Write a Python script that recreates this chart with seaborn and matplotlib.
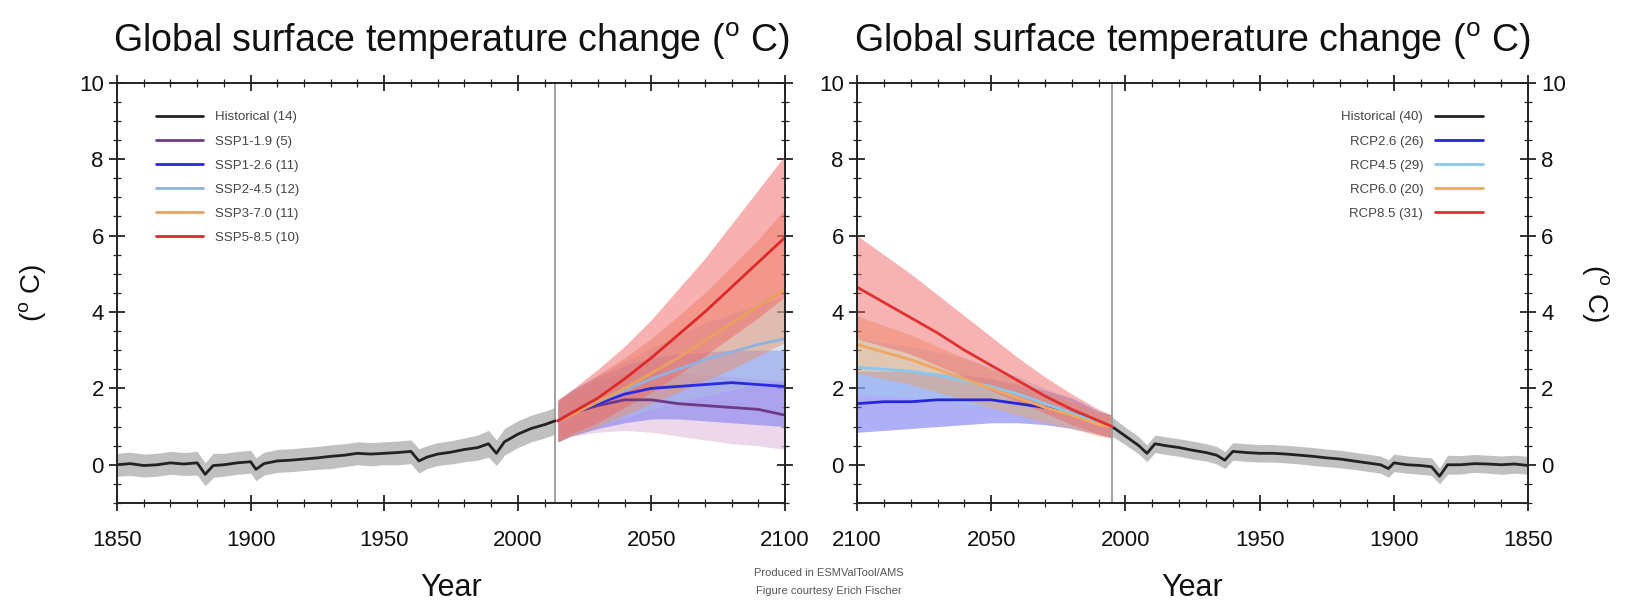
import matplotlib
matplotlib.use("Agg")
import matplotlib.pyplot as plt
from matplotlib.ticker import MultipleLocator
import seaborn as sns

# --- CMIP6 (left panel) ---
HIST_YEARS = [1850, 1855, 1860, 1865, 1870, 1875, 1880, 1883, 1886, 1890, 1895, 1900, 1902,
              1905, 1910, 1915, 1920, 1925, 1930, 1935, 1940, 1945, 1950, 1955, 1960, 1963,
              1966, 1970, 1975, 1980, 1985, 1989, 1992, 1995, 2000, 2005, 2010, 2014]
HIST_MEAN = [0.0, 0.03, -0.02, 0.0, 0.05, 0.02, 0.05, -0.25, -0.02, 0.0, 0.05, 0.08, -0.12,
             0.03, 0.1, 0.12, 0.15, 0.18, 0.22, 0.25, 0.3, 0.28, 0.3, 0.32, 0.35, 0.1,
             0.2, 0.28, 0.33, 0.4, 0.45, 0.55, 0.3, 0.6, 0.8, 0.95, 1.05, 1.15]
HIST_LO = [-0.3, -0.28, -0.32, -0.3, -0.25, -0.28, -0.27, -0.55, -0.33, -0.3, -0.25, -0.22, -0.42,
           -0.27, -0.2, -0.18, -0.15, -0.12, -0.1, -0.05, 0.0, -0.03, 0.0, 0.0, 0.03, -0.22,
           -0.1, -0.02, 0.02, 0.08, 0.12, 0.2, -0.02, 0.25, 0.45, 0.6, 0.7, 0.8]
HIST_HI = [0.3, 0.33, 0.28, 0.3, 0.35, 0.32, 0.35, 0.05, 0.3, 0.3, 0.35, 0.38, 0.18,
           0.33, 0.4, 0.42, 0.45, 0.48, 0.52, 0.55, 0.6, 0.58, 0.6, 0.62, 0.65, 0.42,
           0.5, 0.58, 0.63, 0.7, 0.78, 0.9, 0.65, 0.95, 1.15, 1.3, 1.4, 1.5]

SSP_YEARS = [2015, 2020, 2030, 2040, 2050, 2060, 2070, 2080, 2090, 2100]
SSP119_MEAN = [1.15, 1.35, 1.55, 1.7, 1.7, 1.6, 1.55, 1.5, 1.45, 1.3]
SSP119_LO = [0.6, 0.75, 0.85, 0.9, 0.85, 0.75, 0.65, 0.55, 0.5, 0.4]
SSP119_HI = [1.6, 1.9, 2.2, 2.4, 2.45, 2.4, 2.35, 2.3, 2.25, 2.2]
SSP126_MEAN = [1.15, 1.35, 1.6, 1.85, 2.0, 2.05, 2.1, 2.15, 2.1, 2.05]
SSP126_LO = [0.6, 0.75, 0.95, 1.1, 1.2, 1.2, 1.15, 1.1, 1.05, 1.0]
SSP126_HI = [1.65, 1.95, 2.3, 2.6, 2.8, 2.9, 2.95, 3.0, 3.0, 3.0]
SSP245_MEAN = [1.15, 1.35, 1.65, 1.95, 2.25, 2.5, 2.75, 2.95, 3.15, 3.3]
SSP245_LO = [0.6, 0.8, 1.0, 1.25, 1.45, 1.65, 1.8, 1.95, 2.1, 2.2]
SSP245_HI = [1.7, 1.95, 2.35, 2.7, 3.05, 3.4, 3.7, 3.95, 4.2, 4.4]
SSP370_MEAN = [1.15, 1.3, 1.65, 2.0, 2.4, 2.8, 3.25, 3.7, 4.15, 4.6]
SSP370_LO = [0.6, 0.75, 1.0, 1.3, 1.6, 1.9, 2.2, 2.5, 2.85, 3.2]
SSP370_HI = [1.7, 1.9, 2.35, 2.8, 3.3, 3.9, 4.5, 5.2, 5.9, 6.7]
SSP585_MEAN = [1.15, 1.35, 1.75, 2.25, 2.8, 3.4, 4.0, 4.65, 5.3, 5.95]
SSP585_LO = [0.6, 0.8, 1.1, 1.5, 1.9, 2.35, 2.85, 3.35, 3.85, 4.4]
SSP585_HI = [1.7, 1.95, 2.5, 3.1, 3.8, 4.6, 5.4, 6.3, 7.2, 8.1]

# --- CMIP5 (right panel, mirrored) ---
R_HIST_YEARS = [1850, 1855, 1860, 1865, 1870, 1875, 1880, 1883, 1886, 1890, 1895, 1900,
                1902, 1905, 1910, 1915, 1920, 1925, 1930, 1935, 1940, 1945, 1950, 1955,
                1960, 1963, 1966, 1970, 1975, 1980, 1985, 1989, 1992, 1995, 2000, 2005]
R_HIST_MEAN = [-0.02, 0.02, 0.0, 0.02, 0.03, 0.0, 0.0, -0.3, -0.05, -0.02, 0.0, 0.05,
               -0.1, 0.0, 0.05, 0.1, 0.15, 0.18, 0.22, 0.25, 0.28, 0.3, 0.3, 0.32,
               0.35, 0.12, 0.25, 0.32, 0.38, 0.45, 0.5, 0.55, 0.3, 0.5, 0.75, 1.0]
R_HIST_LO = [-0.25, -0.22, -0.25, -0.22, -0.2, -0.24, -0.25, -0.5, -0.28, -0.25, -0.22, -0.18,
             -0.33, -0.22, -0.17, -0.12, -0.08, -0.05, -0.02, 0.02, 0.05, 0.07, 0.07, 0.09,
             0.12, -0.1, 0.02, 0.1, 0.15, 0.22, 0.27, 0.32, 0.08, 0.28, 0.52, 0.75]
R_HIST_HI = [0.22, 0.25, 0.23, 0.25, 0.27, 0.24, 0.25, -0.08, 0.18, 0.2, 0.23, 0.28,
             0.13, 0.23, 0.28, 0.33, 0.38, 0.41, 0.45, 0.48, 0.51, 0.53, 0.53, 0.55,
             0.58, 0.35, 0.48, 0.55, 0.62, 0.68, 0.73, 0.78, 0.52, 0.73, 0.98, 1.25]

RCP_YEARS = [2005, 2010, 2020, 2030, 2040, 2050, 2060, 2070, 2080, 2090, 2100]
RCP26_MEAN = [1.0, 1.1, 1.35, 1.5, 1.6, 1.7, 1.7, 1.7, 1.65, 1.65, 1.6]
RCP26_LO = [0.7, 0.8, 0.95, 1.05, 1.1, 1.1, 1.05, 1.0, 0.95, 0.9, 0.85]
RCP26_HI = [1.3, 1.4, 1.75, 1.95, 2.1, 2.25, 2.35, 2.4, 2.45, 2.45, 2.45]
RCP45_MEAN = [1.0, 1.1, 1.35, 1.6, 1.85, 2.05, 2.2, 2.35, 2.45, 2.5, 2.55]
RCP45_LO = [0.7, 0.8, 1.0, 1.2, 1.35, 1.5, 1.6, 1.7, 1.75, 1.8, 1.85]
RCP45_HI = [1.3, 1.4, 1.7, 2.0, 2.3, 2.55, 2.8, 2.95, 3.1, 3.2, 3.3]
RCP60_MEAN = [1.0, 1.05, 1.3, 1.5, 1.75, 2.0, 2.25, 2.5, 2.75, 2.95, 3.15]
RCP60_LO = [0.7, 0.75, 0.95, 1.1, 1.3, 1.5, 1.7, 1.9, 2.1, 2.25, 2.4]
RCP60_HI = [1.3, 1.35, 1.65, 1.9, 2.2, 2.5, 2.8, 3.1, 3.4, 3.65, 3.9]
RCP85_MEAN = [1.0, 1.15, 1.45, 1.8, 2.2, 2.6, 3.0, 3.45, 3.85, 4.25, 4.65]
RCP85_LO = [0.7, 0.8, 1.05, 1.35, 1.65, 1.95, 2.3, 2.6, 2.9, 3.1, 3.3]
RCP85_HI = [1.3, 1.45, 1.85, 2.3, 2.8, 3.35, 3.9, 4.45, 5.0, 5.5, 6.0]

TITLE = "Global surface temperature change ($^o$ C)"
YLABEL = "($^o$ C)"
X_TICKS = [1850, 1900, 1950, 2000, 2050, 2100]
Y_TICKS = [0, 2, 4, 6, 8, 10]

sns.set_theme(style="ticks")
plt.rcParams["font.family"] = ["Liberation Sans", "DejaVu Sans"]
plt.rcParams["mathtext.fontset"] = "custom"
plt.rcParams["mathtext.rm"] = "Liberation Sans"
plt.rcParams["mathtext.it"] = "Liberation Sans"
plt.rcParams["text.color"] = "#111111"
plt.rcParams["axes.labelcolor"] = "#111111"
plt.rcParams["xtick.labelcolor"] = "#111111"
plt.rcParams["ytick.labelcolor"] = "#111111"


def style_axes(ax, xlim):
    ax.set_xlim(*xlim)
    ax.set_ylim(-1, 10)
    ax.set_xticks(X_TICKS)
    ax.set_yticks(Y_TICKS)
    ax.xaxis.set_minor_locator(MultipleLocator(10))
    ax.yaxis.set_minor_locator(MultipleLocator(0.5))
    ax.tick_params(which="both", direction="inout", top=True, right=True, left=True,
                   bottom=True, color="#222222")
    ax.tick_params(which="major", length=11, width=1.3, labelsize=16)
    ax.tick_params(axis="x", which="major", pad=14)
    ax.tick_params(axis="y", which="major", pad=4)
    ax.tick_params(which="minor", length=6, width=0.9)
    for s in ax.spines.values():
        s.set_linewidth(1.4)
        s.set_color("#222222")
    ax.set_xlabel("Year", fontsize=22, labelpad=16)
    ax.set_title(TITLE, fontsize=27, pad=22)


def band(ax, x, lo, hi, color, alpha):
    ax.fill_between(x, lo, hi, color=color, alpha=alpha, lw=0)


fig = plt.figure(figsize=(16.34, 6.02), dpi=100)
ax1 = fig.add_axes([0.0716, 0.1645, 0.4088, 0.698])
ax2 = fig.add_axes([0.5245, 0.1645, 0.4107, 0.698])

# left panel
band(ax1, HIST_YEARS, HIST_LO, HIST_HI, "#BDBDBD", 0.95)
band(ax1, SSP_YEARS, SSP119_LO, SSP119_HI, "#E6C6E2", 0.7)
band(ax1, SSP_YEARS, SSP126_LO, SSP126_HI, "#6E6EF2", 0.5)
band(ax1, SSP_YEARS, SSP245_LO, SSP245_HI, "#A6C2E6", 0.45)
band(ax1, SSP_YEARS, SSP370_LO, SSP370_HI, "#EE8C5E", 0.45)
band(ax1, SSP_YEARS, SSP585_LO, SSP585_HI, "#F06464", 0.5)
ax1.axvline(2014, color="#9A9A9A", lw=1.3)
sns.lineplot(x=HIST_YEARS, y=HIST_MEAN, color="#222222", lw=2, label="Historical (14)", ax=ax1)
sns.lineplot(x=SSP_YEARS, y=SSP119_MEAN, color="#6E3A86", lw=2, label="SSP1-1.9 (5)", ax=ax1)
sns.lineplot(x=SSP_YEARS, y=SSP126_MEAN, color="#2A2AE0", lw=2, label="SSP1-2.6 (11)", ax=ax1)
sns.lineplot(x=SSP_YEARS, y=SSP245_MEAN, color="#90B2E0", lw=2, label="SSP2-4.5 (12)", ax=ax1)
sns.lineplot(x=SSP_YEARS, y=SSP370_MEAN, color="#E8A060", lw=2, label="SSP3-7.0 (11)", ax=ax1)
sns.lineplot(x=SSP_YEARS, y=SSP585_MEAN, color="#E02828", lw=2, label="SSP5-8.5 (10)", ax=ax1)
style_axes(ax1, (1850, 2100))
ax1.set_ylabel(YLABEL, fontsize=20, labelpad=22)
ax1.legend(loc="upper left", bbox_to_anchor=(0.05, 0.945), frameon=False, fontsize=9.5,
           handlelength=3.6, labelspacing=0.9, handletextpad=0.9, borderaxespad=0,
           labelcolor="#444444")

# right panel (mirrored layout)
band(ax2, R_HIST_YEARS, R_HIST_LO, R_HIST_HI, "#BDBDBD", 0.95)
band(ax2, RCP_YEARS, RCP26_LO, RCP26_HI, "#6E6EF2", 0.55)
band(ax2, RCP_YEARS, RCP45_LO, RCP45_HI, "#9CCCF0", 0.45)
band(ax2, RCP_YEARS, RCP60_LO, RCP60_HI, "#F0A060", 0.45)
band(ax2, RCP_YEARS, RCP85_LO, RCP85_HI, "#F06868", 0.5)
ax2.axvline(2005, color="#9A9A9A", lw=1.3)
sns.lineplot(x=R_HIST_YEARS, y=R_HIST_MEAN, color="#222222", lw=2, label="Historical (40)", ax=ax2)
sns.lineplot(x=RCP_YEARS, y=RCP26_MEAN, color="#2626D8", lw=2, label="RCP2.6 (26)", ax=ax2)
sns.lineplot(x=RCP_YEARS, y=RCP45_MEAN, color="#88C8F0", lw=2, label="RCP4.5 (29)", ax=ax2)
sns.lineplot(x=RCP_YEARS, y=RCP60_MEAN, color="#F0A860", lw=2, label="RCP6.0 (20)", ax=ax2)
sns.lineplot(x=RCP_YEARS, y=RCP85_MEAN, color="#E03030", lw=2, label="RCP8.5 (31)", ax=ax2)
style_axes(ax2, (2100, 1850))
ax2.tick_params(which="major", labelleft=True, labelright=True)
ax2.yaxis.set_label_position("right")
ax2.set_ylabel(YLABEL, fontsize=20, labelpad=10, rotation=270, va="bottom")
ax2.legend(loc="upper right", bbox_to_anchor=(0.94, 0.945), frameon=False, fontsize=9.5,
           handlelength=3.6, labelspacing=0.9, handletextpad=0.9, borderaxespad=0,
           markerfirst=False, labelcolor="#444444")

fig.text(0.507, 0.043, "Produced in ESMValTool/AMS", ha="center", fontsize=8, color="#555555")
fig.text(0.507, 0.013, "Figure courtesy Erich Fischer", ha="center", fontsize=8, color="#555555")

fig.savefig("out.png", dpi=100)
